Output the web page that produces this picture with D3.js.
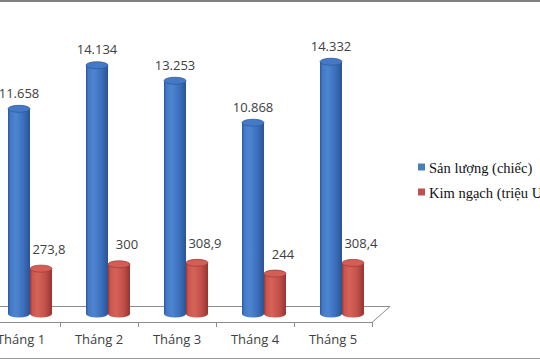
<!DOCTYPE html>
<html>
<head>
<meta charset="utf-8">
<script src="https://cdn.jsdelivr.net/npm/d3@7"></script>
<style>
  body { margin: 0; background: #fff; }
  svg { display: block; }
</style>
</head>
<body>
<div id="chart"></div>
<script>
// data
const months = ["Tháng 1", "Tháng 2", "Tháng 3", "Tháng 4", "Tháng 5"];
const sanLuong = [11658, 14134, 13253, 10868, 14332];   // chiếc
const kimNgach = [273.8, 300, 308.9, 244, 308.4];       // triệu USD
const legendNames = ["Sản lượng (chiếc)", "Kim ngạch (triệu USD)"];

const width = 540, height = 360;

const svg = d3.select("#chart")
  .append("svg")
    .attr("width", width)
    .attr("height", height);

const defs = svg.append("defs");

// vietnamese number style: 11.658 / 273,8
const vn = d3.formatLocale({decimal: ",", thousands: ".", grouping: [3], currency: ["", ""]});
const fmtA = vn.format(",d");
const fmtB = vn.format(".1~f");

// floor depth (3D look)
const depthX = 18, depthY = -16;
const floorFront = 322;

const x = d3.scaleBand()
  .domain(months)
  .range([-18, 372])
  .padding(0);

// main axis for quantity, second one for value
const baseY = floorFront + depthY / 2;
const y = d3.scaleLinear().domain([0, 16000]).range([baseY, baseY - 281.6]);
const y2 = d3.scaleLinear().domain([0, 1700]).range([baseY, baseY - 281.6]);

const barW = 22, ry = 3.5;

// gradients for cylinders
function cylGrad(id, stops) {
  const g = defs.append("linearGradient").attr("id", id)
    .attr("x1", "0%").attr("x2", "100%").attr("y1", "0%").attr("y2", "0%");
  stops.forEach(s => g.append("stop").attr("offset", s[0]).attr("stop-color", s[1]));
}
cylGrad("gBlue", [["0%", "#2b5596"], ["10%", "#4478c6"], ["35%", "#4d85d0"], ["70%", "#3c6fbd"], ["100%", "#2a5493"]]);
cylGrad("gRed", [["0%", "#9c3532"], ["10%", "#c9554d"], ["35%", "#d6635a"], ["70%", "#c0504a"], ["100%", "#983431"]]);

// top border / bottom border of the image
svg.append("rect").attr("x", 0).attr("y", 0).attr("width", width).attr("height", 2).attr("fill", "#7f7f7f");
svg.append("line").attr("x1", 0).attr("x2", width).attr("y1", 358.5).attr("y2", 358.5)
  .attr("stroke", "#9a9a9a").attr("stroke-width", 1);

// floor
const floor = svg.append("g").attr("fill", "none").attr("stroke", "#8c8c8c").attr("stroke-width", 1);
const r0 = x.range()[0], r1 = x.range()[1];
floor.append("path")
  .attr("d", `M${r0},${floorFront + 0.5} L${r1},${floorFront + 0.5} L${r1 + depthX},${floorFront + depthY + 0.5} L${r0 + depthX},${floorFront + depthY + 0.5}`);

// ticks at category boundaries
const bounds = months.map(m => x(m) + x.bandwidth()).concat([x(months[0])]);
floor.selectAll("line.tick")
  .data(bounds)
  .enter()
  .append("line")
    .attr("x1", d => Math.round(d) + 0.5)
    .attr("x2", d => Math.round(d) + 0.5)
    .attr("y1", floorFront)
    .attr("y2", floorFront + 5);

// category labels
const xAxis = svg.append("g")
  .attr("transform", `translate(0, ${floorFront + 6})`)
  .call(d3.axisBottom(x).tickSize(0).tickPadding(7));
xAxis.select(".domain").remove();
xAxis.selectAll("text")
  .attr("font-family", "Open Sans, sans-serif")
  .attr("font-size", "13px")
  .attr("fill", "#404040");

// cylinder drawing
function cylinder(g, cx, top, fill, topFill, topStroke) {
  const l = cx - barW / 2, r = cx + barW / 2;
  g.append("path")
    .attr("d", `M${l},${top} L${l},${baseY} A${barW / 2},${ry} 0 0 0 ${r},${baseY} L${r},${top} Z`)
    .attr("fill", fill);
  g.append("ellipse")
    .attr("cx", cx).attr("cy", top)
    .attr("rx", barW / 2).attr("ry", ry)
    .attr("fill", topFill)
    .attr("stroke", topStroke)
    .attr("stroke-width", 0.8);
}

const midShift = depthX / 2;
const bars = svg.append("g");

months.forEach((m, i) => {
  const c = x(m) + x.bandwidth() / 2 + midShift;
  cylinder(bars, c - barW / 2, y(sanLuong[i]), "url(#gBlue)", "#4579c6", "#2e5c9e");
  cylinder(bars, c + barW / 2, y2(kimNgach[i]), "url(#gRed)", "#d25e55", "#a53c38");
});

// value labels
const labels = svg.append("g")
  .attr("font-family", "Open Sans, sans-serif")
  .attr("font-size", "13px")
  .attr("fill", "#404040")
  .attr("text-anchor", "middle");

labels.selectAll("text.a")
  .data(sanLuong)
  .enter()
  .append("text")
    .attr("x", (d, i) => x(months[i]) + x.bandwidth() / 2 + midShift - barW / 2)
    .attr("y", d => y(d) - 11)
    .text(d => fmtA(d));

labels.selectAll("text.b")
  .data(kimNgach)
  .enter()
  .append("text")
    .attr("x", (d, i) => x(months[i]) + x.bandwidth() / 2 + midShift + barW / 2 + 8)
    .attr("y", d => y2(d) - 15)
    .text(d => fmtB(d));

// legend
const legend = svg.append("g")
  .style("font-family", "'Liberation Serif', 'Times New Roman', serif")
  .style("font-size", "14.5px")
  .attr("fill", "#111");
const legendColors = ["#4a7ebb", "#c0504d"];
legendNames.forEach((n, i) => {
  legend.append("rect")
    .attr("x", 418).attr("y", 163.5 + i * 25)
    .attr("width", 7).attr("height", 7)
    .attr("fill", legendColors[i]);
  legend.append("text")
    .attr("x", 429).attr("y", 172.5 + i * 25)
    .text(n);
});
</script>
</body>
</html>
